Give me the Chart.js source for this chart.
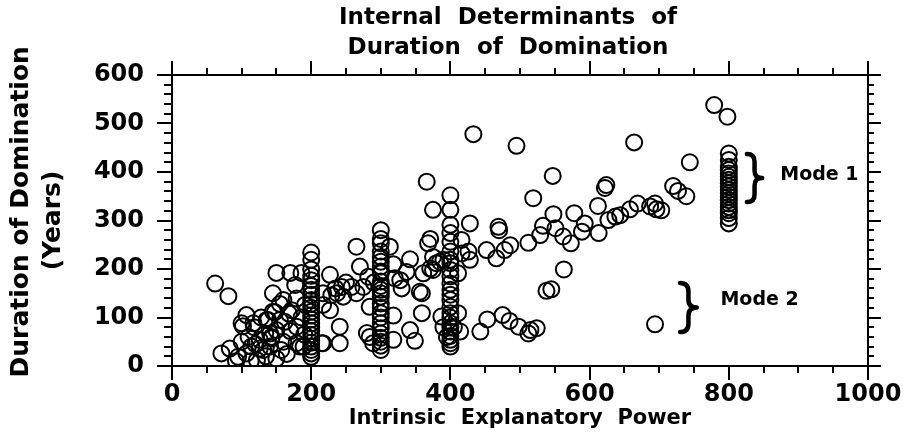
<!DOCTYPE html>
<html>
<head>
<meta charset="utf-8">
<title>Internal Determinants of Duration of Domination</title>
<script src="https://cdn.jsdelivr.net/npm/chart.js@4.4.1/dist/chart.umd.min.js"></script>
<style>
  html, body { margin: 0; padding: 0; background: #fff; }
  #wrap { width: 903px; height: 433px; }
</style>
</head>
<body>
<div id="wrap"><canvas id="chart"></canvas></div>
<script>
// Scatter cloud left of the x=200 column
const leftCloud = [
  [62,170],[81,144],[107,105],[100,88],[102,82],[117,88],[118,80],[71,26],[83,36],[95,19],
  [107,26],[114,40],[122,12],[131,33],[126,54],[134,67],[138,95],[145,112],[145,150],[150,192],
  [170,192],[186,192],[177,167],[179,139],[160,136],[162,91],[150,74],[143,57],[160,50],[157,33],
  [179,81],[179,47],[172,115],[191,126],[189,40],[126,36],[141,67],[141,40],[148,111],[136,95],
  [143,60],[184,40],[110,60],[120,45],[100,50],[128,100],[155,95],[168,108],[170,72],[190,65],
  [186,100],[155,128],[135,20],[165,25],[150,15],[113,10],[92,10]
];

// Stacked columns (x value, list of y values)
const col200X = 200;
const col200Y = [234,219,199,186,177,165,157,147,136,128,120,112,104,96,88,80,72,64,56,48,40,33,26,19];
const col300X = 300;
const col300Y = [280,262,253,236,225,215,205,195,191,174,165,157,150,143,129,120,109,100,88,78,67,58,50,42,33];
const col400X = 400;
const col400Y = [352,322,291,274,256,236,219,212,198,185,170,157,147,136,122,109,100,88,80,71,62,54,47,40];
const col800X = 800;
const col800Y = [438,425,411,404,397,390,384,377,370,363,356,349,342,335,328,321,315,305,294];

const mid200to300 = [
  [215,47],[227,188],[237,150],[246,143],[227,115],[217,150],[217,126],[229,146],[241,81],[241,47],
  [217,47],[244,163],[258,163],[275,163],[265,150],[265,246],[270,205],[282,184],[284,122],[280,68],
  [289,47],[284,60],[250,172],[290,172],[235,160]
];

const mid300to400 = [
  [313,246],[318,210],[320,181],[318,104],[318,54],[342,220],[337,194],[361,191],[375,198],[385,215],
  [359,150],[359,109],[342,74],[349,52],[366,380],[375,322],[371,262],[368,253],[375,225],[380,212],
  [371,201],[328,177],[330,160],[356,153],[387,102],[390,80],[395,60]
];

const near400 = [
  [390,219],[411,191],[416,232],[426,236],[428,219],[411,109],[414,71],[416,260],[428,294],[405,80]
];

// Rising band towards Mode 1
const upperBand = [
  [433,478],[495,454],[664,461],[547,392],[519,346],[624,373],[622,367],[469,287],[470,280],[486,249],
  [478,239],[452,239],[466,222],[512,254],[529,270],[533,289],[548,313],[551,284],[562,267],[573,253],
  [578,315],[589,277],[593,294],[613,274],[612,330],[627,301],[637,308],[658,323],[669,335],[687,329],
  [694,335],[696,323],[644,311],[703,321],[720,371],[727,361],[739,350],[744,420],[779,538],[798,514],
  [563,199],[538,155],[545,158]
];

// Low band (Mode 2)
const lowerBand = [
  [443,71],[453,96],[475,105],[485,93],[498,81],[512,67],[524,78],[515,74],[694,86]
];

const xTicks = [0, 200, 400, 600, 800, 1000];
const yTicks = [0, 100, 200, 300, 400, 500, 600];
const xMinorStep = 50;
const yMinorStep = 20;

const modeLabels = [
  { text: 'Mode 1', braceX: [826, 848], braceY: [437, 338], textX: 874, textY: 394 },
  { text: 'Mode 2', braceX: [730, 754], braceY: [171, 70], textX: 788, textY: 136 }
];

function columnPoints(x, ys) {
  return ys.map(y => ({ x: x, y: y }));
}
function pairPoints(list) {
  return list.map(p => ({ x: p[0], y: p[1] }));
}

const points = [].concat(
  pairPoints(leftCloud),
  columnPoints(col200X, col200Y),
  pairPoints(mid200to300),
  columnPoints(col300X, col300Y),
  pairPoints(mid300to400),
  columnPoints(col400X, col400Y),
  pairPoints(near400),
  pairPoints(upperBand),
  pairPoints(lowerBand),
  columnPoints(col800X, col800Y)
);

// frame on all four sides with major and minor ticks pointing outward
const frameTicks = {
  id: 'frameTicks',
  afterDraw(chart) {
    const { ctx, chartArea: a, scales: { x, y } } = chart;
    ctx.save();
    ctx.strokeStyle = '#000';
    ctx.lineWidth = 2;
    ctx.strokeRect(a.left, a.top, a.right - a.left, a.bottom - a.top);
    ctx.beginPath();
    for (let v = xTicks[0]; v <= xTicks[xTicks.length - 1]; v += xMinorStep) {
      const px = Math.round(x.getPixelForValue(v));
      const len = xTicks.includes(v) ? 14 : 7;
      ctx.moveTo(px, a.bottom); ctx.lineTo(px, a.bottom + len);
      ctx.moveTo(px, a.top); ctx.lineTo(px, a.top - len);
    }
    for (let v = yTicks[0]; v <= yTicks[yTicks.length - 1]; v += yMinorStep) {
      const py = Math.round(y.getPixelForValue(v));
      const len = yTicks.includes(v) ? 15 : 8;
      ctx.moveTo(a.left, py); ctx.lineTo(a.left - len, py);
      ctx.moveTo(a.right, py); ctx.lineTo(a.right + len - 2, py);
    }
    ctx.stroke();
    ctx.restore();
  }
};

// curly braces and the Mode labels
const modeNotes = {
  id: 'modeNotes',
  afterDatasetsDraw(chart) {
    const { ctx, scales: { x, y } } = chart;
    ctx.save();
    ctx.strokeStyle = '#000';
    ctx.fillStyle = '#000';
    ctx.lineWidth = 4.5;
    ctx.lineCap = 'round';
    ctx.lineJoin = 'round';
    modeLabels.forEach(m => {
      const x0 = x.getPixelForValue(m.braceX[0]);
      const w = x.getPixelForValue(m.braceX[1]) - x0;
      const top = y.getPixelForValue(m.braceY[0]);
      const bottom = y.getPixelForValue(m.braceY[1]);
      const mid = (top + bottom) / 2;
      const q = w / 2;
      ctx.beginPath();
      ctx.moveTo(x0, top);
      ctx.quadraticCurveTo(x0 + q, top, x0 + q, top + q);
      ctx.lineTo(x0 + q, mid - q);
      ctx.quadraticCurveTo(x0 + q, mid, x0 + w, mid);
      ctx.quadraticCurveTo(x0 + q, mid, x0 + q, mid + q);
      ctx.lineTo(x0 + q, bottom - q);
      ctx.quadraticCurveTo(x0 + q, bottom, x0, bottom);
      ctx.stroke();

      ctx.font = 'bold 19px "DejaVu Sans"';
      ctx.textAlign = 'left';
      ctx.textBaseline = 'middle';
      ctx.fillText(m.text, x.getPixelForValue(m.textX), y.getPixelForValue(m.textY));
    });
    ctx.restore();
  }
};

Chart.defaults.font.family = '"DejaVu Sans", sans-serif';
Chart.defaults.font.weight = 'bold';
Chart.defaults.color = '#000';

new Chart(document.getElementById('chart'), {
  type: 'scatter',
  data: {
    datasets: [{
      data: points,
      pointRadius: 8,
      pointHoverRadius: 8,
      borderWidth: 2,
      borderColor: '#000',
      backgroundColor: 'rgba(0,0,0,0)'
    }]
  },
  options: {
    responsive: true,
    maintainAspectRatio: false,
    animation: false,
    events: [],
    layout: { padding: 0 },
    plugins: {
      legend: { display: false },
      tooltip: { enabled: false },
      title: {
        display: true,
        fullSize: false,
        text: ['Internal  Determinants  of   ', 'Duration  of  Domination   '],
        color: '#000',
        font: { size: 23, weight: 'bold', lineHeight: '30px' },
        padding: { top: 3, bottom: 12 }
      }
    },
    scales: {
      x: {
        type: 'linear',
        min: 0,
        max: 1000,
        afterFit: scale => {
          scale.height = 67;
          scale.paddingLeft = 0;
          scale.paddingRight = 35;
        },
        afterBuildTicks: scale => { scale.ticks = xTicks.map(v => ({ value: v })); },
        grid: { display: false, drawTicks: false },
        border: { display: false },
        ticks: {
          font: { size: 24, weight: 'bold' }, color: '#000', padding: 14, maxRotation: 0,
          callback: v => String(v)
        },
        title: {
          display: true,
          text: 'Intrinsic  Explanatory  Power',
          color: '#000',
          font: { size: 21, weight: 'bold' },
          padding: { top: 0, bottom: 2 }
        }
      },
      y: {
        type: 'linear',
        min: 0,
        max: 600,
        afterFit: scale => { scale.width = 172; },
        afterBuildTicks: scale => { scale.ticks = yTicks.map(v => ({ value: v })); },
        grid: { display: false, drawTicks: false },
        border: { display: false },
        ticks: {
          font: { size: 24, weight: 'bold' }, color: '#000', padding: 28,
          callback: v => String(v)
        },
        title: {
          display: true,
          text: ['  Duration of Domination', '(Years)'],
          color: '#000',
          font: { size: 25, weight: 'bold', lineHeight: '32px' },
          padding: { top: 5, bottom: 0 }
        }
      }
    }
  },
  plugins: [frameTicks, modeNotes]
});
</script>
</body>
</html>
